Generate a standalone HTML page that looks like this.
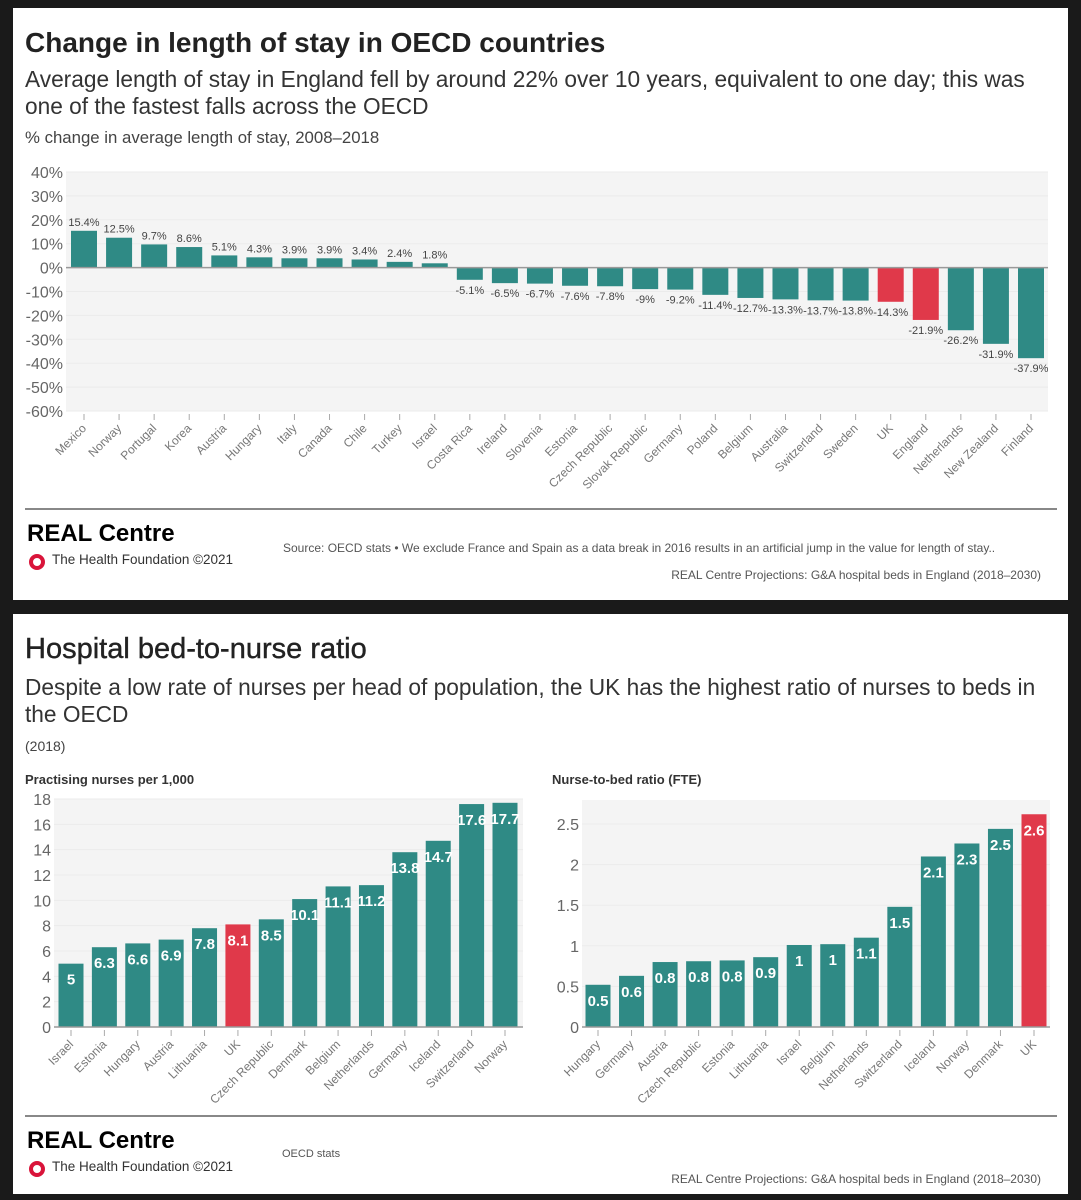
<!DOCTYPE html>
<html><head><meta charset="utf-8">
<style>
body{margin:0;width:1081px;height:1200px;background:#1a1a1a;position:relative;overflow:hidden;font-family:"Liberation Sans",sans-serif;}
.panel{position:absolute;left:13px;width:1055px;background:#fff;}
.t{position:absolute;white-space:nowrap;}
svg{position:absolute;left:0;top:0;}
</style></head><body>
<div class="panel" style="top:8px;height:592px;"></div>
<div class="panel" style="top:614px;height:580px;"></div>

<div class="t" style="left:25px;top:27px;font-size:28px;font-weight:bold;color:#222;">Change in length of stay in OECD countries</div>
<div class="t" style="left:25px;top:66px;font-size:22.7px;color:#333;line-height:27px;">Average length of stay in England fell by around 22% over 10 years, equivalent to one day; this was<br>one of the fastest falls across the OECD</div>
<div class="t" style="left:25px;top:128px;font-size:16.8px;color:#444;">% change in average length of stay, 2008–2018</div>

<div class="t" style="left:25px;top:508px;width:1032px;height:2px;background:#888;"></div>
<div class="t" style="left:27px;top:520px;font-size:24px;font-weight:bold;color:#000;">REAL Centre</div>
<div class="t" style="left:29px;top:554px;width:8px;height:8px;border:4px solid #d9143a;border-radius:50%;"></div>
<div class="t" style="left:52px;top:552px;font-size:13.5px;color:#333;">The Health Foundation ©2021</div>
<div class="t" style="left:283px;top:541px;font-size:12px;color:#555;">Source: OECD stats • We exclude France and Spain as a data break in 2016 results in an artificial jump in the value for length of stay..</div>
<div class="t" style="right:40px;top:568px;font-size:12px;color:#555;">REAL Centre Projections: G&amp;A hospital beds in England (2018–2030)</div>

<div class="t" style="left:25px;top:633px;font-size:29px;color:#222;-webkit-text-stroke:0.4px #222;">Hospital bed-to-nurse ratio</div>
<div class="t" style="left:25px;top:674px;font-size:22.7px;color:#333;line-height:27px;">Despite a low rate of nurses per head of population, the UK has the highest ratio of nurses to beds in<br>the OECD</div>
<div class="t" style="left:25px;top:738px;font-size:14px;color:#444;">(2018)</div>
<div class="t" style="left:25px;top:772px;font-size:13px;font-weight:bold;color:#333;">Practising nurses per 1,000</div>
<div class="t" style="left:552px;top:772px;font-size:13px;font-weight:bold;color:#333;">Nurse-to-bed ratio (FTE)</div>

<div class="t" style="left:25px;top:1115px;width:1032px;height:2px;background:#888;"></div>
<div class="t" style="left:27px;top:1127px;font-size:24px;font-weight:bold;color:#000;">REAL Centre</div>
<div class="t" style="left:29px;top:1161px;width:8px;height:8px;border:4px solid #d9143a;border-radius:50%;"></div>
<div class="t" style="left:52px;top:1159px;font-size:13.5px;color:#333;">The Health Foundation ©2021</div>
<div class="t" style="left:282px;top:1148px;font-size:11px;color:#555;">OECD stats</div>
<div class="t" style="right:40px;top:1172px;font-size:12px;color:#555;">REAL Centre Projections: G&amp;A hospital beds in England (2018–2030)</div>

<svg id="svg" width="1081" height="1200"></svg>

<script>
const losCountries=["Mexico","Norway","Portugal","Korea","Austria","Hungary","Italy","Canada","Chile","Turkey","Israel","Costa Rica","Ireland","Slovenia","Estonia","Czech Republic","Slovak Republic","Germany","Poland","Belgium","Australia","Switzerland","Sweden","UK","England","Netherlands","New Zealand","Finland"];
const losValues=[15.4,12.5,9.7,8.6,5.1,4.3,3.9,3.9,3.4,2.4,1.8,-5.1,-6.5,-6.7,-7.6,-7.8,-9,-9.2,-11.4,-12.7,-13.3,-13.7,-13.8,-14.3,-21.9,-26.2,-31.9,-37.9];
const losLabels=["15.4%","12.5%","9.7%","8.6%","5.1%","4.3%","3.9%","3.9%","3.4%","2.4%","1.8%","-5.1%","-6.5%","-6.7%","-7.6%","-7.8%","-9%","-9.2%","-11.4%","-12.7%","-13.3%","-13.7%","-13.8%","-14.3%","-21.9%","-26.2%","-31.9%","-37.9%"];
const losHighlight=["UK","England"];
const losTicks=[40,30,20,10,0,-10,-20,-30,-40,-50,-60];

const nurseCountries=["Israel","Estonia","Hungary","Austria","Lithuania","UK","Czech Republic","Denmark","Belgium","Netherlands","Germany","Iceland","Switzerland","Norway"];
const nurseValues=[5,6.3,6.6,6.9,7.8,8.1,8.5,10.1,11.1,11.2,13.8,14.7,17.6,17.7];
const nurseLabels=["5","6.3","6.6","6.9","7.8","8.1","8.5","10.1","11.1","11.2","13.8","14.7","17.6","17.7"];
const nurseTicks=[0,2,4,6,8,10,12,14,16,18];

const ratioCountries=["Hungary","Germany","Austria","Czech Republic","Estonia","Lithuania","Israel","Belgium","Netherlands","Switzerland","Iceland","Norway","Denmark","UK"];
const ratioValues=[0.52,0.63,0.8,0.81,0.82,0.86,1.01,1.02,1.1,1.48,2.1,2.26,2.44,2.62];
const ratioLabels=["0.5","0.6","0.8","0.8","0.8","0.9","1","1","1.1","1.5","2.1","2.3","2.5","2.6"];
const ratioTicks=[0,0.5,1,1.5,2,2.5];

const TEAL="#2f8a85",RED="#e0394a";
const svg=document.getElementById('svg');
const NS="http://www.w3.org/2000/svg";
function mk(tag,attrs,parent){const e=document.createElementNS(NS,tag);for(const k in attrs)e.setAttribute(k,attrs[k]);(parent||svg).appendChild(e);return e;}

function chart(o){
  const g=mk('g',{});
  
  
  const y=v=>o.y0+(v-o.vmin)/(o.vmax-o.vmin)*(o.y1-o.y0);
  const bg=mk('rect',{x:o.xl,y:o.top,width:o.xr-o.xl,height:o.bottom-o.top,fill:'#f4f4f4'},g);
  
  
  o.ticks.forEach(t=>{
    const yy=y(t);
    mk('line',{x1:o.xl,x2:o.xr,y1:yy,y2:yy,stroke:'#ebebeb','stroke-width':1},g);
    const tx=mk('text',{x:o.xl-3,y:yy+6,'text-anchor':'end','font-size':o.tickSize,fill:'#666','font-family':'Liberation Sans, sans-serif'},g);
    tx.textContent=o.tickFmt(t);
    
    
  });
  const n=o.cats.length;
  const xc=i=>o.c0+i*(o.c1-o.c0)/(n-1);
  o.vals.forEach((v,i)=>{
    const x=xc(i),yv=y(v),yz=y(0);
    const r=mk('rect',{x:x-o.bw/2,y:Math.min(yv,yz),width:o.bw,height:Math.abs(yz-yv),fill:o.hl.includes(o.cats[i])?RED:TEAL},g);
    
    
    let lt;
    if(o.inside){
      lt=mk('text',{x:x,y:yv+21,'text-anchor':'middle','font-size':15,'font-weight':'bold',fill:'#fff','font-family':'Liberation Sans, sans-serif'},g);
    }else{
      lt=mk('text',{x:x,y:v>=0?yv-5:yv+14,'text-anchor':'middle','font-size':11,fill:'#444','font-family':'Liberation Sans, sans-serif'},g);
    }
    lt.textContent=o.labels[i];
    
    
    mk('line',{x1:x,x2:x,y1:o.bottom+3,y2:o.bottom+9,stroke:'#aaa'},g);
    const ct=mk('text',{x:x+3,y:o.bottom+18,'text-anchor':'end','font-size':12,fill:'#777','font-family':'Liberation Sans, sans-serif',transform:`rotate(-45 ${x+3} ${o.bottom+18})`},g);
    ct.textContent=o.cats[i];
    
    
  });
  mk('line',{x1:o.xl,x2:o.xr,y1:y(0),y2:y(0),stroke:'#999','stroke-width':1.5},g);
}

chart({name:'los-chart',cats:losCountries,vals:losValues,labels:losLabels,hl:losHighlight,ticks:losTicks,
  vmin:40,vmax:-60,y0:172,y1:411,top:172,bottom:411,xl:66,xr:1048,c0:84,c1:1031,bw:26,
  tickSize:16,tickFmt:t=>t+'%',inside:false});
chart({name:'nurses-chart',cats:nurseCountries,vals:nurseValues,labels:nurseLabels,hl:['UK'],ticks:nurseTicks,
  vmin:0,vmax:18,y0:1027,y1:799,top:799,bottom:1027,xl:54,xr:523,c0:71,c1:505,bw:25,
  tickSize:16,tickFmt:t=>String(t),inside:true});
chart({name:'ratio-chart',cats:ratioCountries,vals:ratioValues,labels:ratioLabels,hl:['UK'],ticks:ratioTicks,
  vmin:0,vmax:2.5,y0:1027,y1:824,top:800,bottom:1027,xl:582,xr:1050,c0:598,c1:1034,bw:25,
  tickSize:16,tickFmt:t=>String(t),inside:true});
</script>
</body></html>
